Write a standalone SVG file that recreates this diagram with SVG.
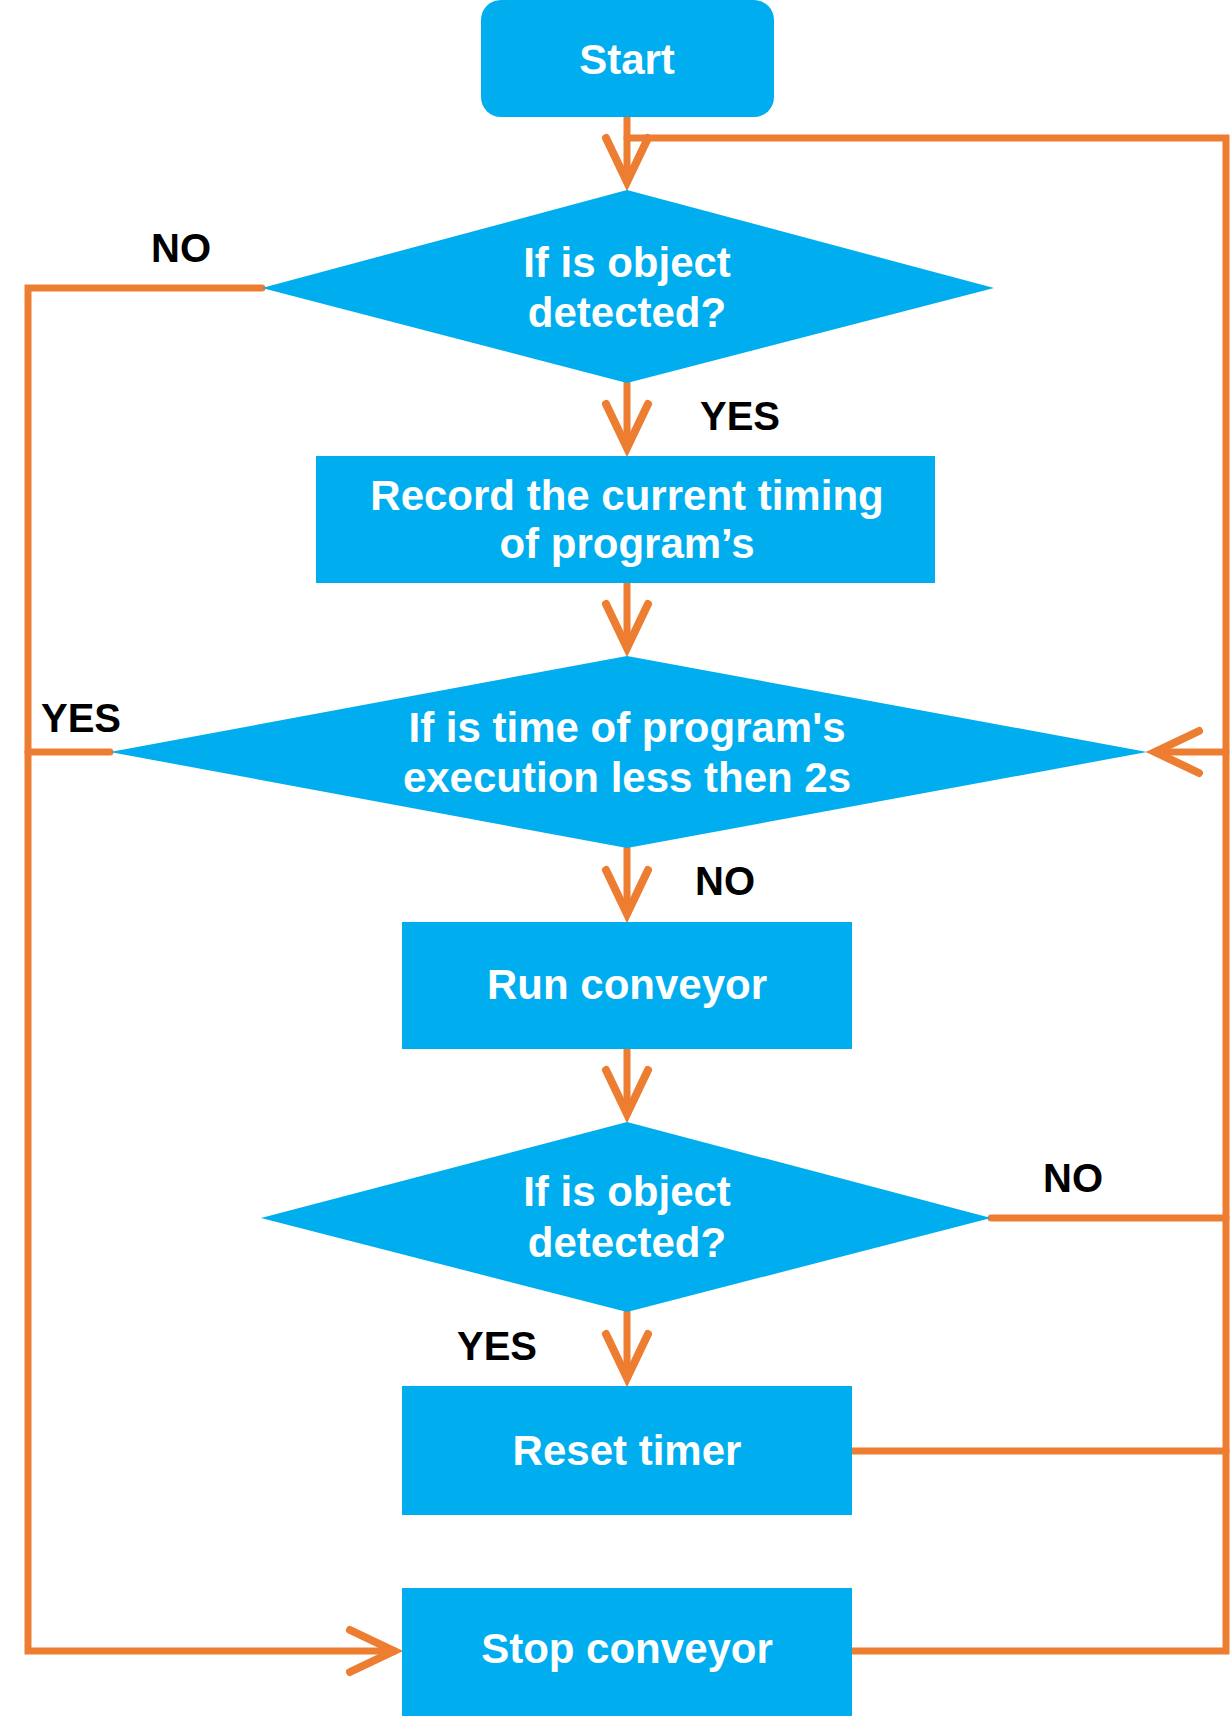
<svg xmlns="http://www.w3.org/2000/svg" width="1232" height="1716" viewBox="0 0 1232 1716">
<style>
.node{fill:#00AEEF;}
.nt{font-family:"Liberation Sans",Arial,sans-serif;font-weight:bold;font-size:42px;fill:#FFFFFF;text-anchor:middle;}
.lbl{font-family:"Liberation Sans",Arial,sans-serif;font-weight:bold;font-size:40px;fill:#000000;}
.c{fill:none;stroke:#ED7D31;stroke-width:7;stroke-linecap:round;stroke-linejoin:miter;}
</style>
<defs>
<marker id="arr" markerUnits="userSpaceOnUse" viewBox="-50 -30 70 60" refX="0" refY="0" markerWidth="70" markerHeight="60" orient="auto">
<path d="M -44 -21 L 0 0 L -44 21" fill="none" stroke="#ED7D31" stroke-width="8" stroke-linecap="round" stroke-linejoin="miter"/>
</marker>
</defs>
<rect width="1232" height="1716" fill="#FFFFFF"/>
<g id="connectors">
<path class="c" d="M627 117 V182" marker-end="url(#arr)"/>
<path class="c" d="M852 1651 H1226 V138 H627"/>
<path class="c" d="M852 1451 H1226"/>
<path class="c" d="M991 1218 H1226"/>
<path class="c" d="M1226 752 H1155" marker-end="url(#arr)"/>
<path class="c" d="M262 288 H28 V1651 H394" marker-end="url(#arr)"/>
<path class="c" d="M110 752 H28"/>
<path class="c" d="M627 383 V448" marker-end="url(#arr)"/>
<path class="c" d="M627 583 V648" marker-end="url(#arr)"/>
<path class="c" d="M627 848 V914" marker-end="url(#arr)"/>
<path class="c" d="M627 1049 V1114" marker-end="url(#arr)"/>
<path class="c" d="M627 1312 V1378" marker-end="url(#arr)"/>
</g>
<g id="start">
<rect class="node" x="481" y="0" width="293" height="117" rx="20" ry="20"/>
<text class="nt" x="627" y="74">Start</text>
</g>
<g id="decision1">
<polygon class="node" points="627,190 994,288 627,383 262,288"/>
<text class="nt" x="627" y="277">If is object</text>
<text class="nt" x="627" y="327">detected?</text>
</g>
<g id="record">
<rect class="node" x="316" y="456" width="619" height="127"/>
<text class="nt" x="627" y="510">Record the current timing</text>
<text class="nt" x="627" y="558">of program’s</text>
</g>
<g id="decision2">
<polygon class="node" points="627,656 1147,752 627,848 110,752"/>
<text class="nt" x="627" y="742">If is time of program's</text>
<text class="nt" x="627" y="792">execution less then 2s</text>
</g>
<g id="run">
<rect class="node" x="402" y="922" width="450" height="127"/>
<text class="nt" x="627" y="999">Run conveyor</text>
</g>
<g id="decision3">
<polygon class="node" points="627,1122 991,1218 627,1312 261,1218"/>
<text class="nt" x="627" y="1206">If is object</text>
<text class="nt" x="627" y="1257">detected?</text>
</g>
<g id="reset">
<rect class="node" x="402" y="1386" width="450" height="129"/>
<text class="nt" x="627" y="1465">Reset timer</text>
</g>
<g id="stop">
<rect class="node" x="402" y="1588" width="450" height="128"/>
<text class="nt" x="627" y="1663">Stop conveyor</text>
</g>
<g id="labels">
<text class="lbl" x="151" y="262">NO</text>
<text class="lbl" x="700" y="430">YES</text>
<text class="lbl" x="41" y="732">YES</text>
<text class="lbl" x="695" y="895">NO</text>
<text class="lbl" x="1043" y="1192">NO</text>
<text class="lbl" x="457" y="1360">YES</text>
</g>
</svg>
